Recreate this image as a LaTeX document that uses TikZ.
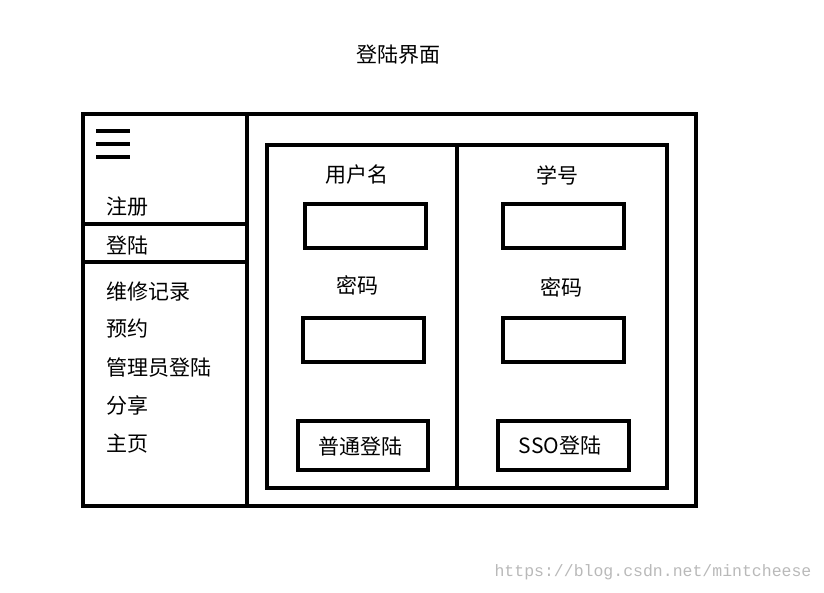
\documentclass[tikz,border=0pt]{standalone}
\usepackage{fontspec}
\setmainfont{Noto Sans CJK SC}
\newfontfamily\wm{Liberation Mono}
\begin{document}
\begin{tikzpicture}[x=1pt,y=-1pt,
  ln/.style={line width=4pt},
  bx/.style={draw,line width=4pt},
  lab/.style={font=\fontsize{21}{23}\selectfont,inner sep=0pt},
  item/.style={lab,anchor=west}]
\useasboundingbox (0,0) rectangle (824,592);
\node[lab] (title) at (398,55) {登陆界面};
\draw[ln] (83,114) rectangle (696,506);
\draw[ln] (247,114) -- (247,508);
\draw[ln] (83,224) -- (247,224);
\draw[ln] (83,262) -- (247,262);
\foreach \y in {131,144,157} \draw[ln] (96,\y) -- (130,\y);
\node[item] (reg) at (106,207) {注册};
\node[item] (login) at (106,246) {登陆};
\node[item] (m1) at (106,292) {维修记录};
\node[item] (m2) at (106,329) {预约};
\node[item] (m3) at (106,368) {管理员登陆};
\node[item] (m4) at (106,405) {分享};
\node[item] (m5) at (106,444) {主页};
\draw[ln] (267,145) rectangle (667,488);
\draw[ln] (457,145) -- (457,488);
\node[lab] (u) at (357,175) {用户名};
\draw[bx] (305,204) rectangle (426,248);
\node[lab] (p1) at (357,285) {密码};
\draw[bx] (303,318) rectangle (424,362);
\draw[bx] (298,421) rectangle (428,470);
\node[lab] (b1) at (360,446) {普通登陆};
\node[lab] (s) at (557,175) {学号};
\draw[bx] (503,204) rectangle (624,248);
\node[lab] (p2) at (561,287) {密码};
\draw[bx] (503,318) rectangle (624,362);
\draw[bx] (498,421) rectangle (629,470);
\node[lab] (b2) at (560,446) {SSO登陆};
\node[font=\wm\fontsize{16.5}{18}\selectfont,text=gray!55,inner sep=0pt] (w) at (653,572) {https://blog.csdn.net/mintcheese};
\end{tikzpicture}
\end{document}
